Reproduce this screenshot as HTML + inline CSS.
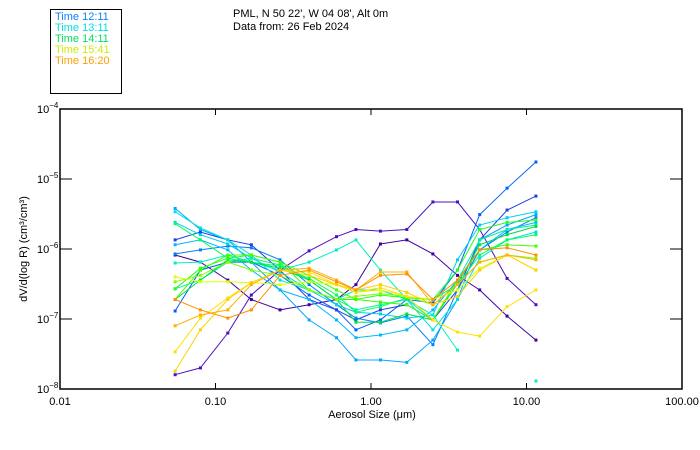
<!DOCTYPE html>
<html><head><meta charset="utf-8">
<style>
html,body{margin:0;padding:0;background:#fff;}
svg{display:block;font-family:"Liberation Sans",sans-serif;}
</style></head>
<body>
<svg id="chart" width="700" height="450" viewBox="0 0 700 450">
  <rect width="700" height="450" fill="#fff"/>
  <g>
    <rect x="50.5" y="9.5" width="71" height="84" fill="none" stroke="#000"/>
    <text x="55" y="20" font-size="11" fill="#1080ff">Time 12:11</text>
    <text x="55" y="31" font-size="11" fill="#00e0e0">Time 13:11</text>
    <text x="55" y="42" font-size="11" fill="#00e060">Time 14:11</text>
    <text x="55" y="53" font-size="11" fill="#c8f000">Time 15:41</text>
    <text x="55" y="64" font-size="11" fill="#ffa000">Time 16:20</text>
  </g>
  <text x="233" y="17" font-size="11" fill="#000">PML, N 50 22', W 04 08', Alt 0m</text>
  <text x="233" y="30" font-size="11" fill="#000">Data from: 26 Feb 2024</text>
  <g id="plot"></g>
  <g id="axes"></g>
  <text x="372" y="418" font-size="11" text-anchor="middle">Aerosol Size (μm)</text>
  <text transform="translate(27,249) rotate(-90)" font-size="11" text-anchor="middle">dV/d(log R) (cm³/cm³)</text>
</svg>
<script>
// size bins (µm)
const sizes = [0.055,0.08,0.12,0.17,0.26,0.4,0.6,0.8,1.15,1.7,2.5,3.6,5.0,7.5,11.5];
// series values in units of 1e-7 cm3/cm3
const s1 = [0.16,0.2,0.63,2.2,5,9.4,15,19,18,19,47,47,19,3.8,1.6];
const s2 = [8.2,6.5,3.6,1.9,1.35,1.6,1.9,3.1,11.8,13.5,8.5,4.2,2.6,1.1,0.5];
const s3 = [1.3,5,6.5,6.5,4.2,2.2,1.35,0.7,0.97,1.9,1.7,5,31,74,175];
const s4 = [13.5,17.5,13.5,11.5,5,1.9,1.35,0.97,1.35,1.6,0.97,2.6,13.5,36,57];
const s5 = [8.5,9.7,11,10.4,7,3.1,1.6,1.03,0.88,1.1,0.43,2.6,9.7,17.5,28];
const s6 = [38,19,13.5,6.5,2.6,0.97,0.54,0.26,0.26,0.24,0.5,1.9,13.5,22,31];
const s7 = [11.5,13.5,9.7,5,2.6,1.9,0.97,0.54,0.59,0.7,1.35,3.6,9.7,19,24];
const s8 = [34,20,13.5,8.2,3.6,2.6,1.9,2.6,2.6,1.9,0.7,1.9,7.4,13.5,17.5];
const s9 = [24,16,11.8,7.4,4.7,2.6,1.6,1.25,1.18,1.03,1.14,7,22,28,34];
const s10 = [6.3,6.5,8.2,6.5,5,6.5,9.7,13.5,5,1.9,1.14,0.36,null,null,0.13];
const s11 = [2.7,3.6,6.5,7.4,5.9,3.6,1.9,1.35,1.6,1.9,0.97,3.6,13.5,19,22];
const s12 = [23,13.5,7.4,6.5,5.7,3.8,2.2,1.25,1.5,2,1.9,3.1,8.2,13.5,16];
const s13 = [1.9,3.6,7,6.5,5.3,3.6,1.9,0.9,0.9,1.18,0.97,3.2,11.5,16,21];
const s14 = [2.7,5.3,7.4,8.2,6.5,2.6,1.9,1.9,2.2,2,1.9,5,19,24,26];
const s15 = [1.9,5,8.2,8.2,6.5,4.2,2.6,1.9,1.75,1.6,0.97,3.6,9.7,11.5,11];
const s16 = [3.4,4.2,6.5,5,4.2,2.6,1.9,2.1,2.3,2.1,1.6,3.1,6.5,8.2,7.4];
const s17 = [4,3.4,3.4,3.3,3.1,3.4,3.1,2.4,2.6,2.1,1.9,2.6,5.3,8.2,5];
const s18 = [0.34,1.03,2,3.3,5,4.7,3.1,2.4,2.8,2.1,0.97,0.65,0.57,1.5,2.6];
const s19 = [0.18,0.7,1.9,3.3,5,4.2,3.1,2.6,3.1,2.4,1.6,2.1,5,8.2,5];
const s20 = [0.8,1.14,1.35,3.1,5,5.3,3.6,2.6,4.7,4.7,1.6,3.1,6.5,8.2,7];
const s21 = [1.9,1.35,1.03,1.35,4.2,5,3.4,2.6,4.2,4.4,1.9,3.6,9.7,10.4,8.2];
const seriesList = [s1,s2,s3,s4,s5,s6,s7,s8,s9,s10,s11,s12,s13,s14,s15,s16,s17,s18,s19,s20,s21];
const colors = ["#5010c0","#4000a0","#0060ff","#2040e0","#0080ff","#00a8ff","#00b8ff","#00e0e0","#00d0f0","#00f0c0","#00f0a0","#00ff60","#00e040","#20ff20","#40ff00","#80ff00","#e0ff00","#ffe000","#ffd000","#ffb000","#ff9000"];
const xTicks = [0.01,0.1,1,10,100];
const xTickLabels = ["0.01","0.10","1.00","10.00","100.00"];
const yTicks = [-8,-7,-6,-5,-4];

const X0=60, X1=682, Y0=109, Y1=389;
function xs(v){ return X0 + (Math.log10(v)+2)/4*(X1-X0); }
function ys(v){ const e=Math.log10(v*1e-7); return Y1 - (e+8)/4*(Y1-Y0); }
const NS="http://www.w3.org/2000/svg";
const plot=document.getElementById('plot'), axes=document.getElementById('axes');
function mk(tag,attrs,parent){ const e=document.createElementNS(NS,tag); for(const k in attrs) e.setAttribute(k,attrs[k]); parent.appendChild(e); return e; }

seriesList.forEach((s,i)=>{
  const g=mk('g',{},plot);
  
  
  let d='', pen=false;
  s.forEach((v,j)=>{
    if(v===null){ pen=false; return; }
    d += (pen?'L':'M')+xs(sizes[j]).toFixed(1)+' '+ys(v).toFixed(1)+' ';
    pen=true;
  });
  const p=mk('path',{d:d,fill:'none',stroke:colors[i],'stroke-width':1},g);
  
  
  s.forEach((v,j)=>{
    if(v===null) return;
    const r=mk('rect',{x:xs(sizes[j])-1.5,y:ys(v)-1.5,width:3,height:3,fill:colors[i]},g);
    
    
  });
});

const frame=mk('rect',{x:X0,y:Y0,width:X1-X0,height:Y1-Y0,fill:'none',stroke:'#000','stroke-width':1.5},axes);


xTicks.forEach((t,i)=>{
  const x=xs(t);
  if(i>0 && i<xTicks.length-1){
    mk('line',{x1:x,x2:x,y1:Y1,y2:Y1-6,stroke:'#000'},axes);
    mk('line',{x1:x,x2:x,y1:Y0,y2:Y0+6,stroke:'#000'},axes);
  }
  const tx=mk('text',{x:x,y:Y1+16,'font-size':11,'text-anchor':'middle'},axes);
  tx.textContent=xTickLabels[i];
  
  
});
yTicks.forEach((e,i)=>{
  const y=Y1-(e+8)/4*(Y1-Y0);
  if(i>0 && i<yTicks.length-1){
    mk('line',{x1:X0,x2:X0+12,y1:y,y2:y,stroke:'#000'},axes);
    mk('line',{x1:X1,x2:X1-12,y1:y,y2:y,stroke:'#000'},axes);
  }
  const tx=mk('text',{x:37,y:y+4,'font-size':11},axes);
  
  
  const a=document.createElementNS(NS,'tspan'); a.textContent='10'; tx.appendChild(a);
  const b=document.createElementNS(NS,'tspan'); b.setAttribute('dy','-5'); b.setAttribute('font-size','8'); b.textContent=String(e).replace('-','−'); tx.appendChild(b);
});
</script>
</body></html>
